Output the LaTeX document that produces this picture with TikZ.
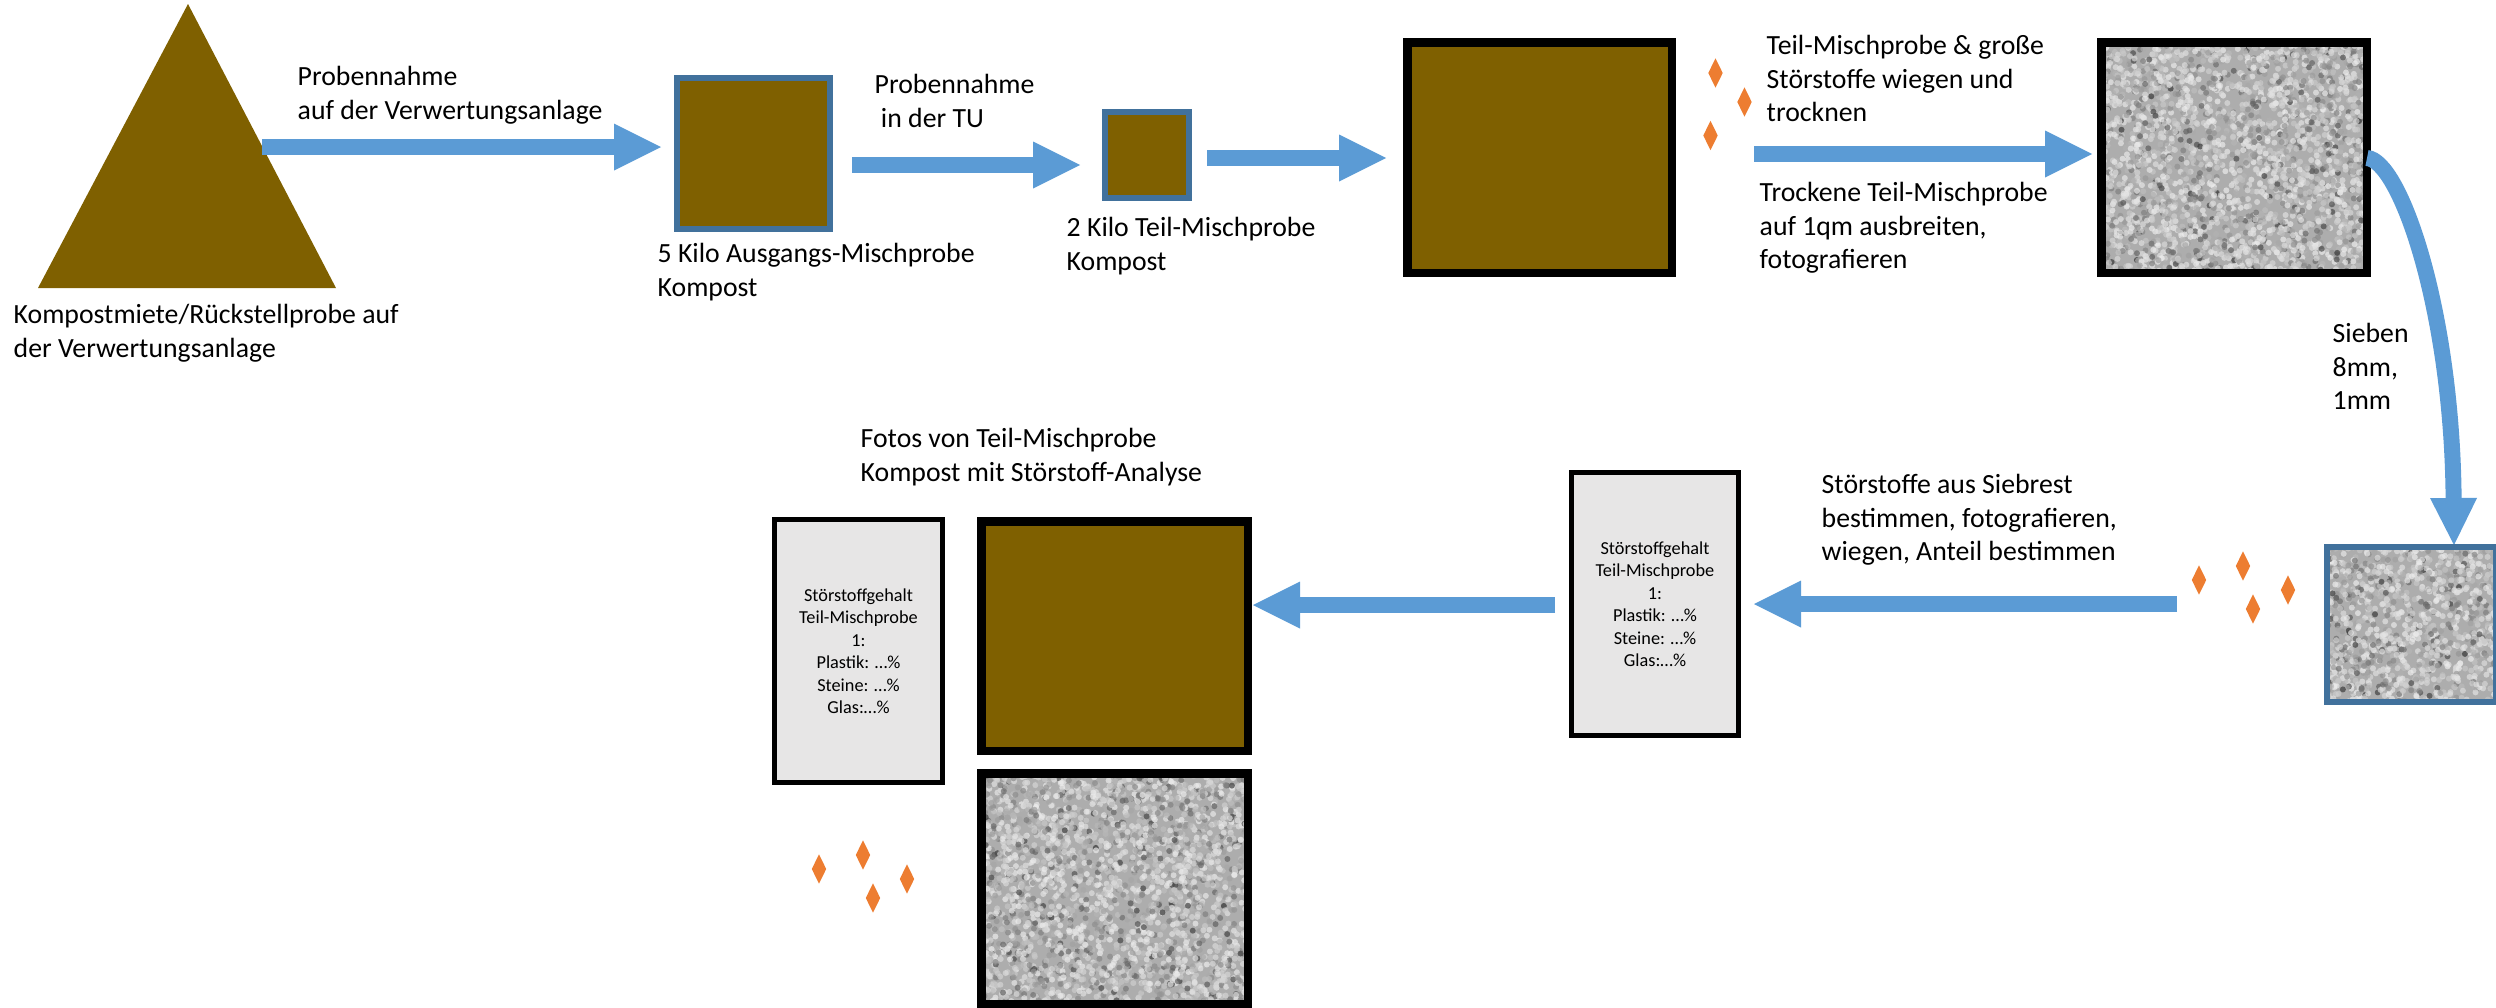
\documentclass[tikz,border=0pt]{standalone}
\usepackage{fontspec}
\setmainfont{Carlito}
\usepackage{tikz}
\usetikzlibrary{arrows.meta, shapes.geometric}

\definecolor{kompost}{HTML}{7F6000}
\definecolor{pfeilblau}{HTML}{5B9BD5}
\definecolor{rahmenblau}{HTML}{41719C}
\definecolor{stoerorange}{HTML}{ED7D31}
\definecolor{tafelgrau}{HTML}{E7E6E6}

\tikzset{
  fluss/.style={draw=pfeilblau, line width=0.16cm,
    -{Triangle[length=0.47cm, width=0.47cm, line width=0pt]}},
  kiste/.style={inner sep=0pt, line width=#1},
  tafel/.style={draw=black, fill=tafelgrau, line width=0.05cm, inner sep=0pt,
    align=center, font=\fontsize{5.2}{6.4}\selectfont},
  splitter/.style={diamond, fill=stoerorange, inner sep=0pt, aspect=0.5,
    minimum width=0.15cm, minimum height=0.30cm},
  txt/.style={inner sep=0pt, anchor=north west, align=left,
    font=\fontsize{7.9}{9.4}\selectfont}
}

% grainy photo of the dried sample
\newcommand{\siebgut}[5]{%
  \fill[black!32] (#1,#2) rectangle (#3,#4);
  \begin{scope}
    \clip (#1,#2) rectangle (#3,#4);
    \foreach \k in {1,...,#5}{
      \pgfmathsetmacro{\gx}{#1+rnd*((#3)-(#1))}
      \pgfmathsetmacro{\gy}{#2+rnd*((#4)-(#2))}
      \pgfmathsetmacro{\gw}{int(8+75*rnd*rnd)}
      \fill[black!\gw, opacity=0.7] (\gx,\gy) circle (0.03);
    }
  \end{scope}}

\begin{document}
\begin{tikzpicture}[scale=1]

\useasboundingbox (0,0) rectangle (24.96,-10.07);
\pgfmathsetseed{17}


% Kompostmiete
\fill[kompost] (0.38,-2.88) -- (1.88,-0.04) -- (3.36,-2.88) -- cycle;
\node[txt] (miete) at (0.13,-3.04) {Kompostmiete/Rückstellprobe auf\\der Verwertungsanlage};

\coordinate (a1s) at (2.62,-1.47);
\coordinate (a1e) at (6.61,-1.47);
\draw[fluss] (a1s) -- (a1e);
\node[txt] (t1) at (2.97,-0.66) {Probennahme\\auf der Verwertungsanlage};


% Ausgangs-Mischprobe
\node[kiste=0.06cm, draw=rahmenblau, fill=kompost, minimum width=1.53cm, minimum height=1.51cm]
  (ausgang) at (7.535,-1.535) {};
\node[txt] (t5kg) at (6.57,-2.43) {5 Kilo Ausgangs-Mischprobe\\Kompost};

\coordinate (a2s) at (8.52,-1.65);
\coordinate (a2e) at (10.80,-1.65);
\draw[fluss] (a2s) -- (a2e);
\node[txt] (t2) at (8.74,-0.74) {Probennahme\\~in der TU};


% Teil-Mischprobe
\node[kiste=0.06cm, draw=rahmenblau, fill=kompost, minimum width=0.84cm, minimum height=0.86cm]
  (teil) at (11.47,-1.55) {};
\node[txt] (t2kg) at (10.66,-2.17) {2 Kilo Teil-Mischprobe\\Kompost};

\coordinate (a3s) at (12.07,-1.58);
\coordinate (a3e) at (13.86,-1.58);
\draw[fluss] (a3s) -- (a3e);


% nasse Probe
\node[kiste=0.085cm, draw=black, fill=kompost, minimum width=2.645cm, minimum height=2.305cm]
  (nass) at (15.395,-1.575) {};

\node[splitter] (s1) at (17.155,-0.73) {};
\node[splitter] (s2) at (17.445,-1.02) {};
\node[splitter] (s3) at (17.105,-1.355) {};

\node[txt] (twiegen) at (17.66,-0.35) {Teil-Mischprobe \& große\\Störstoffe wiegen und\\trocknen};
\coordinate (a4s) at (17.54,-1.54);
\coordinate (a4e) at (20.92,-1.54);
\draw[fluss] (a4s) -- (a4e);
\node[txt] (ttrocken) at (17.59,-1.82) {Trockene Teil-Mischprobe\\auf 1qm ausbreiten,\\fotografieren};


% trockene Probe
\siebgut{21.0125}{-0.4225}{23.6675}{-2.7275}{2600}
\node[kiste=0.085cm, draw=black, minimum width=2.655cm, minimum height=2.305cm]
  (trocken) at (22.34,-1.575) {};

\coordinate (a5s) at (23.67,-1.58);
\coordinate (a5e) at (24.54,-5.45);
\draw[fluss] (a5s) .. controls (24.00,-1.60) and (24.52,-3.10) .. (a5e);
\node[txt] (tsieben) at (23.32,-3.23) {Sieben\\8mm,\\1mm};


% Siebrest
\siebgut{23.27}{-5.47}{24.96}{-7.02}{1100}
\node[kiste=0.06cm, draw=rahmenblau, minimum width=1.69cm, minimum height=1.55cm]
  (siebrest) at (24.115,-6.245) {};

\node[splitter] (s4) at (21.99,-5.80) {};
\node[splitter] (s5) at (22.43,-5.66) {};
\node[splitter] (s6) at (22.88,-5.90) {};
\node[splitter] (s7) at (22.53,-6.09) {};

\node[txt] (tsiebrest) at (18.21,-4.74) {Störstoffe aus Siebrest\\bestimmen, fotografieren,\\wiegen, Anteil bestimmen};
\coordinate (a6s) at (21.77,-6.04);
\coordinate (a6e) at (17.54,-6.04);
\draw[fluss] (a6s) -- (a6e);


% Störstoffgehalt
\node[tafel, minimum width=1.67cm, minimum height=2.63cm] (gehalt) at (16.55,-6.04)
  {Störstoffgehalt\\Teil-Mischprobe\\1:\\Plastik: …\%\\Steine: …\%\\Glas:…\%};

\coordinate (a7s) at (15.55,-6.05);
\coordinate (a7e) at (12.53,-6.05);
\draw[fluss] (a7s) -- (a7e);


% Fotos mit Analyse
\node[txt] (tfotos) at (8.60,-4.28) {Fotos von Teil-Mischprobe\\Kompost mit Störstoff-Analyse};

\node[kiste=0.085cm, draw=black, fill=kompost, minimum width=2.665cm, minimum height=2.295cm]
  (fotoA) at (11.145,-6.36) {};

\siebgut{9.8125}{-7.7325}{12.4775}{-10.0375}{2600}
\node[kiste=0.085cm, draw=black, minimum width=2.665cm, minimum height=2.305cm]
  (fotoB) at (11.145,-8.885) {};

\node[tafel, minimum width=1.68cm, minimum height=2.63cm] (ergebnis) at (8.585,-6.51)
  {Störstoffgehalt\\Teil-Mischprobe\\1:\\Plastik: …\%\\Steine: …\%\\Glas:…\%};

\node[splitter] (s8) at (8.19,-8.69) {};
\node[splitter] (s9) at (8.63,-8.55) {};
\node[splitter] (s10) at (9.07,-8.79) {};
\node[splitter] (s11) at (8.73,-8.98) {};


\end{tikzpicture}
\end{document}
